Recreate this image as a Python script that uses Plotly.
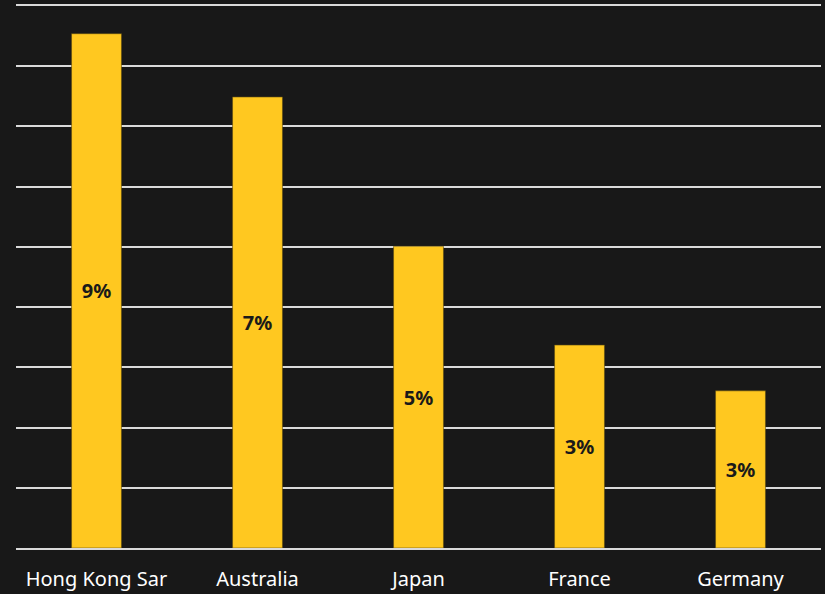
import plotly.graph_objects as go

categories = ["Hong Kong Sar", "Australia", "Japan", "France", "Germany"]
values = [8.54, 7.49, 5.01, 3.37, 2.61]
labels = ["9%", "7%", "5%", "3%", "3%"]

BG = "#181818"
BAR = "#FFC820"
GRID = "#D9D9D9"

fig = go.Figure(go.Bar(
    x=categories, y=values, text=labels,
    textposition="inside", insidetextanchor="middle",
    textfont=dict(family="Noto Sans", size=20, color="#1a1a1a", weight="bold"),
    marker=dict(color=BAR, line=dict(color="#5a4a10", width=0.6)),
    width=0.31,
))

fig.update_layout(
    width=825, height=594,
    paper_bgcolor=BG, plot_bgcolor=BG,
    margin=dict(l=16, r=4, t=6, b=46),
    showlegend=False,
    xaxis=dict(showgrid=False, zeroline=False, automargin=False,
               showline=True, mirror=True, linecolor=GRID, linewidth=1.5,
               tickfont=dict(family="Noto Sans", size=20, color="#FFFFFF"),
               ticks="outside", ticklen=12, tickcolor=BG),
    yaxis=dict(range=[0, 9], dtick=1, showgrid=True, gridcolor=GRID, gridwidth=1.5,
               zeroline=False, automargin=False,
               showticklabels=False, showline=False),
)

fig.write_html("out.html",
               config={"displayModeBar": False},
               post_script="document.body.style.margin='0';document.body.style.background='#181818';")
